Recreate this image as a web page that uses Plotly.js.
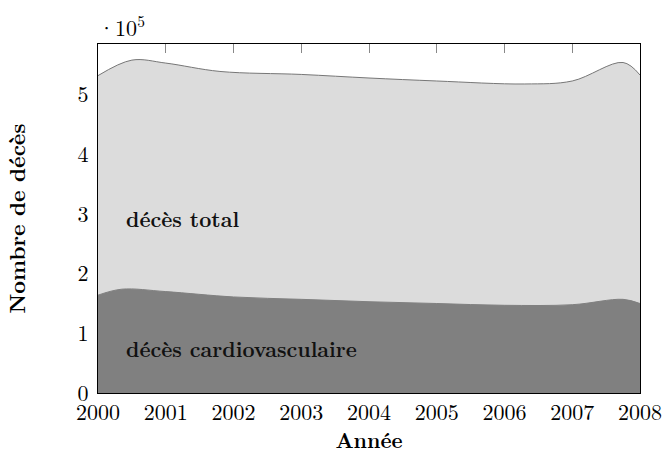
<!DOCTYPE html>
<html>
<head>
<meta charset="utf-8">
<script src="https://cdn.plot.ly/plotly-3.0.1.min.js"></script>
<style>html,body{margin:0;padding:0;background:#fff}#chart{width:666px;height:454px}</style>
</head>
<body>
<div id="chart"></div>
<script>
var yearsTotal = [2000, 2000.5, 2001, 2001.8, 2003, 2004, 2005, 2006.3, 2007, 2007.75, 2008];
var totalDeaths = [532000, 558000, 553000, 539000, 534000, 528000, 523000, 518000, 523000, 554000, 533000];
var yearsCardio = [2000, 2000.35, 2001, 2002, 2003, 2004, 2005, 2006, 2007, 2007.75, 2008];
var cardioDeaths = [164000, 174000, 170000, 161000, 157000, 153000, 150000, 147000, 148000, 157000, 150000];
var yTickVals = [0, 100000, 200000, 300000, 400000, 500000];
var yTickText = ["0", "1", "2", "3", "4", "5"];
var xTickVals = [2000, 2001, 2002, 2003, 2004, 2005, 2006, 2007, 2008];

var serif = "'Latin Modern Roman', 'CMU Serif', 'Liberation Serif', serif";

var traces = [
  {x: yearsTotal, y: totalDeaths, type: 'scatter', mode: 'lines', fill: 'tozeroy',
   fillcolor: '#dcdcdc', line: {color: '#777777', width: 1, shape: 'spline', smoothing: 1}, hoverinfo: 'skip'},
  {x: yearsCardio, y: cardioDeaths, type: 'scatter', mode: 'lines', fill: 'tozeroy',
   fillcolor: '#808080', line: {color: '#808080', width: 1, shape: 'spline', smoothing: 1}, hoverinfo: 'skip'}
];

var layout = {
  width: 666, height: 454,
  margin: {l: 98, r: 26, t: 44, b: 61},
  paper_bgcolor: '#fff', plot_bgcolor: '#fff',
  showlegend: false,
  font: {family: serif, color: '#000', size: 22},
  xaxis: {range: [2000, 2008], tickvals: xTickVals, ticktext: xTickVals.map(String),
    ticks: 'inside', ticklen: 9, tickcolor: '#888', showgrid: false, zeroline: false,
    showline: true, linecolor: '#000', linewidth: 1, mirror: 'ticks', layer: 'below traces',
    tickfont: {family: serif, size: 22}, ticklabelstandoff: 0,
    title: {text: '<b>Année</b>', font: {family: serif, size: 21}, standoff: 4}},
  yaxis: {range: [0, 585000], tickvals: yTickVals, ticktext: yTickText,
    ticks: 'inside', ticklen: 9, tickcolor: '#888', showgrid: false, zeroline: false,
    showline: true, linecolor: '#000', linewidth: 1, mirror: 'ticks', layer: 'below traces',
    tickfont: {family: serif, size: 22}, ticklabelstandoff: 4,
    title: {text: '<b>Nombre de décès</b>', font: {family: serif, size: 22}, standoff: 46}},
  annotations: [
    {xref: 'paper', yref: 'paper', x: 0, y: 1, xanchor: 'left', yanchor: 'bottom', yshift: 0, xshift: -2,
     text: '·10<sup>5</sup>', showarrow: false, font: {family: serif, size: 22}},
    {xref: 'x', yref: 'y', x: 2000.38, y: 293000, xanchor: 'left', yanchor: 'middle',
     text: '<b>décès total</b>', showarrow: false, font: {family: serif, size: 21, color: '#111'}},
    {xref: 'x', yref: 'y', x: 2000.38, y: 76000, xanchor: 'left', yanchor: 'middle',
     text: '<b>décès cardiovasculaire</b>', showarrow: false, font: {family: serif, size: 21, color: '#111'}}
  ]
};

Plotly.newPlot('chart', traces, layout, {displayModeBar: false, staticPlot: true});
</script>
</body>
</html>
